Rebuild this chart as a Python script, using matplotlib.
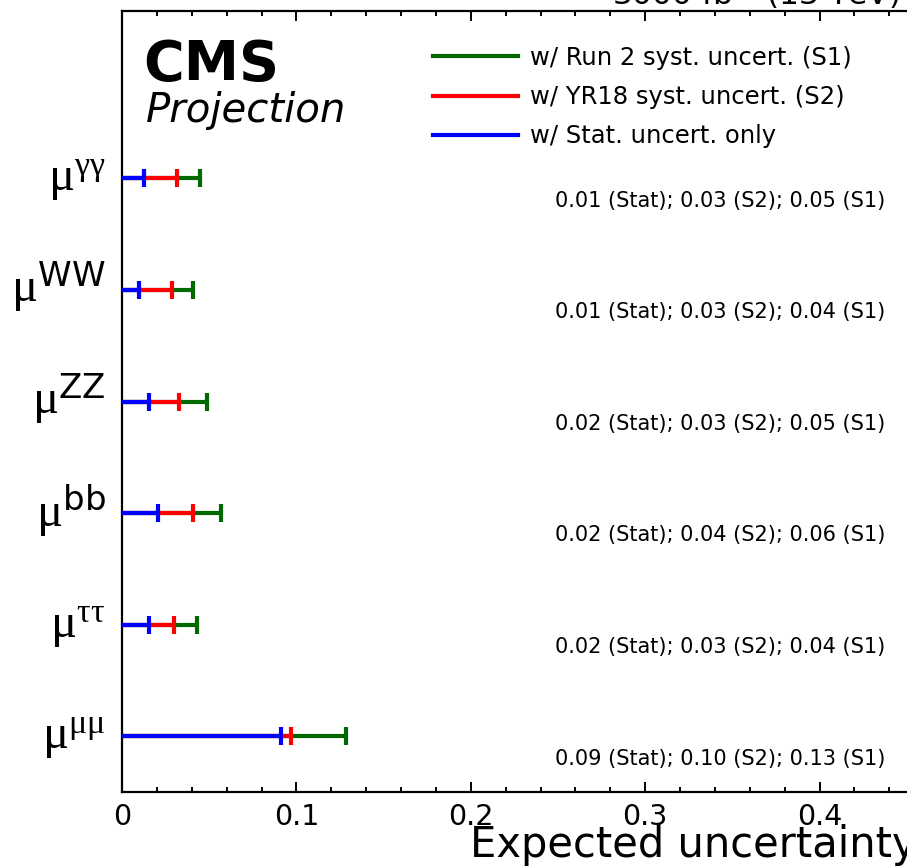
import matplotlib
matplotlib.use("Agg")
import matplotlib.pyplot as plt
from matplotlib.lines import Line2D
from matplotlib.transforms import offset_copy
import numpy as np

# ---------------- data ----------------
channels = [r"$\mathrm{\mu}^{\mathrm{\gamma\gamma}}$", r"$\mathrm{\mu}^{\mathsf{WW}}$",
            r"$\mathrm{\mu}^{\mathsf{ZZ}}$", r"$\mathrm{\mu}^{\mathsf{bb}}$",
            r"$\mathrm{\mu}^{\mathrm{\tau\tau}}$", r"$\mathrm{\mu}^{\mathrm{\mu\mu}}$"]
stat_only = [0.0124, 0.0097, 0.0157, 0.0208, 0.0153, 0.0914]
s2_yr18 = [0.0314, 0.0285, 0.0329, 0.0409, 0.0296, 0.0967]
s1_run2 = [0.0450, 0.0408, 0.0489, 0.0568, 0.0430, 0.1287]
summary = ["0.01 (Stat); 0.03 (S2); 0.05 (S1)",
           "0.01 (Stat); 0.03 (S2); 0.04 (S1)",
           "0.02 (Stat); 0.03 (S2); 0.05 (S1)",
           "0.02 (Stat); 0.04 (S2); 0.06 (S1)",
           "0.02 (Stat); 0.03 (S2); 0.04 (S1)",
           "0.09 (Stat); 0.10 (S2); 0.13 (S1)"]
legend_labels = ["w/ Run 2 syst. uncert. (S1)", "w/ YR18 syst. uncert. (S2)",
                 "w/ Stat. uncert. only"]

GREEN = "#006a00"
RED = "#ff0000"
BLUE = "#0000ff"

plt.rcParams["font.family"] = ["DejaVu Sans"]
plt.rcParams["mathtext.fontset"] = "custom"
plt.rcParams["mathtext.rm"] = "Liberation Serif"
plt.rcParams["mathtext.sf"] = "DejaVu Sans"
plt.rcParams["mathtext.it"] = "Liberation Serif:italic"

W, H = 907, 867
fig = plt.figure(figsize=(W / 100, H / 100), dpi=100)
# axis runs past the right edge of the picture (it is cropped in the reference)
ax = fig.add_axes([122 / W, 75 / H, 872 / W, 781 / H])

n = len(channels)
ypos = np.arange(n)[::-1] + 0.5   # top row first

# bars: widest (S1) below, stat-only on top
for vals, col in [(s1_run2, GREEN), (s2_yr18, RED), (stat_only, BLUE)]:
    ax.hlines(ypos, 0, vals, colors=col, lw=3.0, zorder=3)
for vals, col in [(s1_run2, GREEN), (s2_yr18, RED), (stat_only, BLUE)]:
    ax.plot(vals, ypos, ls="none", marker="|", ms=13, mew=3.0, color=col, zorder=4)

ax.set_xlim(0, 0.5)
ax.set_ylim(0, 7)

ax.set_xticks(np.arange(0, 0.51, 0.1))
ax.set_xticklabels(["0", "0.1", "0.2", "0.3", "0.4", "0.5"])
ax.set_xticks(np.arange(0, 0.51, 0.02), minor=True)
ax.tick_params(axis="x", which="both", direction="in", top=True, width=1.4,
               labelsize=20.5, pad=8)
ax.tick_params(axis="x", which="major", length=7)
ax.tick_params(axis="x", which="minor", length=3.5)
ax.set_yticks([])
for sp in ax.spines.values():
    sp.set_linewidth(1.6)

# y labels
lab_tr = offset_copy(ax.get_yaxis_transform(), fig=fig, x=-12, y=-9, units="points")
for lab, y in zip(channels, ypos):
    ax.text(0, y, lab, transform=lab_tr, ha="right", va="baseline", fontsize=35)

# summary numbers under each row
for txt, y in zip(summary, ypos):
    ax.text(0.248, y - 0.2, txt, ha="left", va="center", fontsize=15)

# x label (cropped at the right edge)
fig.text(470 / W, 1 - 857 / H, "Expected uncertainty", fontsize=30,
         ha="left", va="baseline")
fig.text(900 / W, 1 - 5 / H, r"3000 fb$^{-1}$ (13 TeV)", fontsize=22.5,
         ha="right", va="baseline")

# CMS label
fig.text(143 / W, 1 - 80 / H, "CMS", fontsize=40, fontweight="bold",
         ha="left", va="baseline")
fig.text(146 / W, 1 - 122 / H, "Projection", fontsize=29, fontstyle="italic",
         ha="left", va="baseline")

handles = [Line2D([], [], color=c, lw=3.0) for c in (GREEN, RED, BLUE)]
fig.legend(handles, legend_labels, loc="upper left",
           bbox_to_anchor=(433 / W, 1 - 46 / H), frameon=False, fontsize=17.5,
           handlelength=3.5, handletextpad=0.5, labelspacing=0.62,
           borderaxespad=0, borderpad=0)

fig.savefig("out.png", dpi=100)
